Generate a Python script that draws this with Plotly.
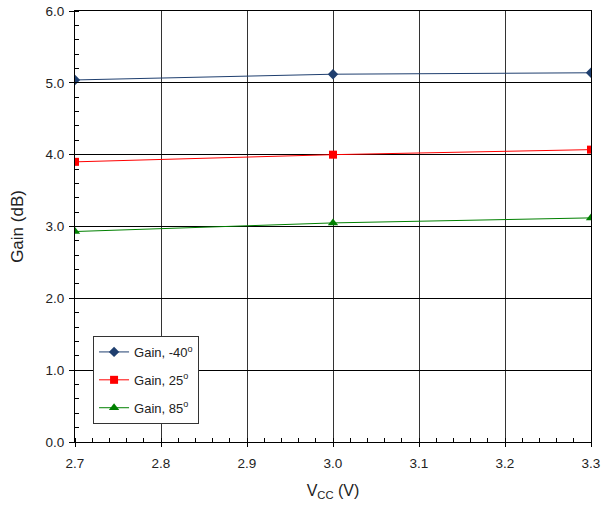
import plotly.graph_objects as go

vcc = [2.7, 3.0, 3.3]
gain_m40 = [5.04, 5.12, 5.14]
gain_25 = [3.90, 4.00, 4.07]
gain_85 = [2.93, 3.05, 3.12]

x_ticks = [2.7, 2.8, 2.9, 3.0, 3.1, 3.2, 3.3]
y_ticks = [0, 1, 2, 3, 4, 5, 6]

series = [
    ("Gain, -40<sup>o</sup>", gain_m40, "#1F3F6F", "diamond", 8),
    ("Gain, 25<sup>o</sup>", gain_25, "#FF0000", "square", 8),
    ("Gain, 85<sup>o</sup>", gain_85, "#008000", "triangle-up", 9),
]

fig = go.Figure()
for i, (name, ys, col, sym, sz) in enumerate(series):
    fig.add_trace(go.Scatter(
        x=vcc, y=ys, name=name, mode="lines+markers",
        line=dict(color=col, width=1),
        marker=dict(symbol=sym, size=sz, color=col),
        legendgroup=str(i),
    ))

font = "Liberation Sans, Arial, sans-serif"
fig.update_layout(
    width=608, height=506,
    margin=dict(l=75, r=17, t=11, b=64, autoexpand=False),
    paper_bgcolor="white", plot_bgcolor="white",
    font=dict(family=font, size=13, color="#222"),
    showlegend=True,
    legend=dict(
        x=0.035, y=0.246, xanchor="left", yanchor="top",
        bordercolor="#333", borderwidth=1, bgcolor="white",
        font=dict(size=13, color="#222"), tracegroupgap=8,
        itemwidth=30, entrywidth=112, entrywidthmode="pixels",
    ),
    xaxis=dict(
        range=[2.7, 3.3], tickvals=x_ticks,
        ticktext=[f"{v:.1f}" for v in x_ticks],
        showgrid=True, gridcolor="#333", gridwidth=1,
        showline=True, linecolor="black", linewidth=1, mirror=True,
        ticks="outside", ticklen=4, tickcolor="black",
        minor=dict(dtick=0.02, ticks="inside", ticklen=4, tickcolor="black", showgrid=False),
        zeroline=False, automargin=False, ticklabelstandoff=5,
        title=dict(text="V<sub>CC</sub> (V)", font=dict(size=16, color="#222"), standoff=14),
        tickfont=dict(size=13.5, color="#222"),
    ),
    yaxis=dict(
        range=[0, 6], tickvals=y_ticks,
        ticktext=[f"{v:.1f}" for v in y_ticks],
        showgrid=True, gridcolor="black", gridwidth=1,
        showline=True, linecolor="black", linewidth=1, mirror=True,
        ticks="outside", ticklen=5, tickcolor="black",
        minor=dict(dtick=0.2, ticks="inside", ticklen=4, tickcolor="black", showgrid=False),
        zeroline=False, automargin=False, ticklabelstandoff=2,
        title=dict(text="Gain (dB)", font=dict(size=17, color="#222"), standoff=17),
        tickfont=dict(size=13.5, color="#222"),
    ),
)

fig.write_html("out.html", config={"displayModeBar": False},
               post_script="document.body.style.margin='0';")
